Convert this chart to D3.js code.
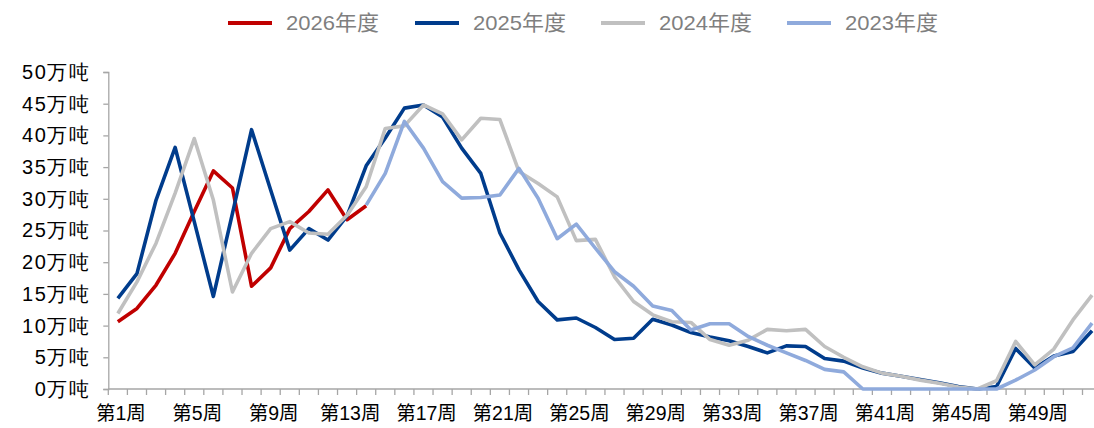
<!DOCTYPE html>
<html>
<head>
<meta charset="utf-8">
<script src="https://cdn.jsdelivr.net/npm/d3@7"></script>
<style>
  body { margin: 0; background: #fff; }
  svg { display: block; font-family: Arial, "Liberation Sans", "Noto Sans CJK SC", sans-serif; }
</style>
</head>
<body>
<main></main>
<script>
// categories
var weeks = Array.from({length: 52}, (d, i) => "第" + (i + 1) + "周");
var tickWeeks = ["第1周","第5周","第9周","第13周","第17周","第21周","第25周","第29周","第33周","第37周","第41周","第45周","第49周"];
var yTicks = [0, 5, 10, 15, 20, 25, 30, 35, 40, 45, 50];

// series (万吨)
var s2026 = [10.6,12.7,16.4,21.4,28.0,34.4,31.7,16.2,19.1,25.3,28.0,31.4,26.7,28.9];
var s2025 = [14.3,18.2,29.8,38.1,26.4,14.6,27.7,40.9,31.4,21.9,25.3,23.5,27.3,35.2,39.6,44.3,44.8,42.9,38.0,34.0,
             24.6,18.8,13.8,10.9,11.2,9.7,7.8,8.0,11.0,10.1,8.9,8.2,7.6,6.7,5.7,6.8,6.7,4.8,4.4,3.3,
             2.5,2.0,1.5,1.0,0.4,0,0.4,6.4,3.3,5.2,5.9,9.2];
var s2024 = [11.9,16.9,23.0,30.9,39.5,29.8,15.3,21.4,25.3,26.4,24.6,24.4,27.4,31.9,41.1,41.5,44.8,43.4,39.3,42.7,
             42.5,34.3,32.4,30.3,23.4,23.6,17.7,13.8,11.7,10.6,10.5,7.8,6.9,7.7,9.4,9.2,9.4,6.7,5.0,3.5,
             2.5,2.0,1.4,0.9,0.3,0,1.3,7.5,3.8,6.3,10.9,14.8];
var s2023 = [null,null,null,null,null,null,null,null,null,null,null,null,null,29.0,34.0,42.2,38.0,32.7,30.1,30.2,
             30.6,34.8,30.1,23.7,26.0,22.2,18.5,16.2,13.1,12.4,9.3,10.3,10.3,8.3,6.9,5.7,4.5,3.1,2.7,0,
             0,0,0,0,0,0,0,1.4,3.0,5.1,6.5,10.4];

var seriesNames = ["2026年度", "2025年度", "2024年度", "2023年度"];
var seriesColors = ["#C00000", "#003C8C", "#C0C0C0", "#8FAADC"];
var seriesData = [s2026, s2025, s2024, s2023];

var width = 1094, height = 428;
var svg = d3.select("main")
  .append("svg")
  .attr("width", width)
  .attr("height", height);

var x = d3.scaleBand().domain(weeks).range([108.3, 1101.6]);
var y = d3.scaleLinear().domain([0, 50]).range([389, 72]);

// y axis
var yAxis = svg.append("g")
  .attr("transform", "translate(108.3,0)")
  .call(d3.axisLeft(y).tickValues(yTicks).tickSize(5).tickPadding(13).tickFormat(d => d + "万吨"));
yAxis.select(".domain").attr("stroke", "#A6A6A6").attr("stroke-width", 1.3);
yAxis.selectAll(".tick line").attr("stroke", "#A6A6A6").attr("stroke-width", 1.3);
yAxis.selectAll(".tick text")
  .attr("fill", "#000")
  .style("font-size", "20px")
  .style("letter-spacing", "1.5px");

// x axis line + boundary ticks
var xAxis = svg.append("g").attr("transform", "translate(0,389)");
xAxis.append("line")
  .attr("x1", x.range()[0]).attr("x2", x.range()[1])
  .attr("stroke", "#A6A6A6").attr("stroke-width", 1.3);
xAxis.selectAll(".bt")
  .data(weeks)
  .enter()
  .append("line")
  .attr("class", "bt")
  .attr("x1", d => x(d)).attr("x2", d => x(d))
  .attr("y1", 0).attr("y2", 6)
  .attr("stroke", "#A6A6A6").attr("stroke-width", 1.3);
xAxis.selectAll(".xl")
  .data(tickWeeks)
  .enter()
  .append("text")
  .attr("class", "xl")
  .attr("x", d => x(d) + x.bandwidth() / 2 + 3)
  .attr("y", 31)
  .attr("text-anchor", "middle")
  .style("font-size", "19.5px")
  .attr("fill", "#000")
  .text(d => d);

// lines
var line = d3.line()
  .defined(d => d != null)
  .x((d, i) => x(weeks[i]) + x.bandwidth() / 2)
  .y(d => y(d));

svg.append("g")
  .selectAll("path")
  .data(seriesData)
  .enter()
  .append("path")
  .attr("d", d => line(d))
  .attr("fill", "none")
  .attr("stroke", (d, i) => seriesColors[i])
  .attr("stroke-width", 3.6)
  .attr("stroke-linejoin", "round");

// legend
var legendX = [228, 415, 601, 787];
var legend = svg.append("g").attr("id", "legend");
seriesNames.forEach((name, i) => {
  legend.append("line")
    .attr("x1", legendX[i]).attr("x2", legendX[i] + 44)
    .attr("y1", 23).attr("y2", 23)
    .attr("stroke", seriesColors[i])
    .attr("stroke-width", 4);
  legend.append("text")
    .attr("x", legendX[i] + 58)
    .attr("y", 30)
    .attr("fill", "#7F7F7F")
    .style("font-size", "21px")
    .attr("textLength", 93)
    .attr("lengthAdjust", "spacingAndGlyphs")
    .text(name);
});
</script>
</body>
</html>
